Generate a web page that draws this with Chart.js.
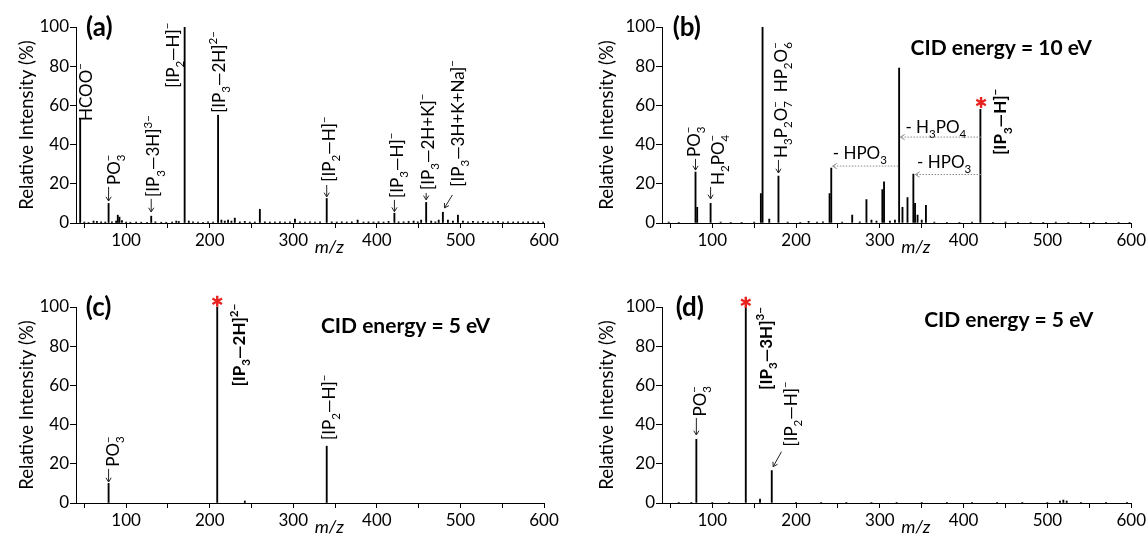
<!DOCTYPE html>
<html>
<head>
<meta charset="utf-8">
<script src="https://cdn.jsdelivr.net/npm/chart.js@4.4.1/dist/chart.umd.min.js"></script>
<style>
html, body { margin: 0; padding: 0; background: #fff; overflow: hidden; }
#fig { position: relative; width: 1148px; height: 538px; overflow: hidden; background: #fff; }
canvas { position: absolute; }
</style>
</head>
<body>
<div id="fig">
  <canvas id="pa" width="574" height="270" style="left:0;top:0"></canvas>
  <canvas id="pb" width="574" height="270" style="left:574px;top:0"></canvas>
  <canvas id="pc" width="574" height="270" style="left:0;top:280px"></canvas>
  <canvas id="pd" width="574" height="270" style="left:574px;top:280px"></canvas>
</div>
<script>
// m/z axis ticks (labels only on the hundreds)
const xTicks = [50, 100, 150, 200, 250, 300, 350, 400, 450, 500, 550, 600];
const yTicks = [0, 20, 40, 60, 80, 100];

// (a) full scan
const aMz  = [45, 50, 55, 61, 65, 70, 75, 79, 83, 88, 90, 92, 95, 100, 105, 112, 118, 125, 130, 135, 142, 148, 155, 160, 163, 170, 175, 180, 186, 192, 198, 204, 210, 214, 218, 222, 226, 230, 236, 242, 248, 254, 260, 266, 272, 278, 284, 290, 296, 302, 308, 314, 320, 326, 332, 340, 346, 352, 358, 364, 370, 377, 384, 390, 396, 402, 408, 414, 421, 426, 432, 438, 444, 449, 453, 459, 465, 470, 474, 479, 485, 491, 497, 503, 509, 515, 521, 527, 533, 539, 545, 551, 557, 563, 569, 575, 581, 587, 593, 599];
const aInt = [53, 0.5, 0.3, 1, 0.8, 0.6, 0.5, 10, 0.6, 1, 4, 3, 1.2, 0.5, 0.4, 0.5, 0.4, 0.4, 3.5, 0.6, 0.4, 0.4, 0.5, 1, 0.8, 100, 1, 0.6, 0.5, 0.4, 0.6, 0.5, 55, 1.5, 1, 1.5, 1, 2.5, 0.6, 0.8, 0.5, 0.5, 7, 0.6, 0.5, 0.5, 0.6, 0.5, 0.6, 2, 0.6, 0.5, 0.6, 0.5, 0.6, 12.5, 0.6, 0.5, 0.6, 0.5, 0.6, 1.5, 0.5, 0.6, 0.5, 0.6, 0.5, 0.8, 5, 0.6, 0.6, 0.8, 1, 0.6, 1.5, 10.5, 1, 0.6, 1.5, 5.5, 1.5, 1, 4, 1, 0.6, 0.8, 0.6, 0.8, 0.5, 0.6, 0.8, 0.5, 0.6, 0.5, 0.6, 0.5, 0.6, 0.5, 0.6, 0.5];

// (b) CID 10 eV of [IP3-H]-
const bMz  = [48, 60, 80, 82, 98, 110, 122, 135, 150, 158, 160, 168, 179, 190, 205, 215, 225, 232, 240, 242, 255, 267, 276, 284, 290, 296, 303, 305, 312, 318, 323, 327, 333, 340, 342, 345, 350, 355, 365, 380, 395, 410, 420, 435, 450, 465, 480, 495, 510, 525, 540, 555, 570, 585, 598];
const bInt = [0.5, 0.4, 26, 8, 10, 0.5, 0.4, 0.4, 0.5, 15, 100, 2, 24, 0.5, 0.4, 0.8, 0.5, 0.6, 15, 28, 0.5, 4, 0.6, 12, 1.5, 1, 17, 21, 1, 1.5, 79, 8, 13, 25, 10, 4, 1.5, 9, 0.5, 0.4, 0.4, 0.5, 58, 0.4, 0.5, 0.4, 0.3, 0.4, 0.5, 0.3, 0.4, 0.3, 0.3, 0.3, 0.3];

// (c) CID 5 eV of [IP3-2H]2-
const cMz  = [79, 209, 242, 340];
const cInt = [10, 100, 1, 29];

// (d) CID 5 eV of [IP3-3H]3-
const dMz  = [60, 75, 81, 100, 120, 140, 157, 171, 200, 230, 260, 290, 320, 350, 380, 410, 440, 470, 500, 515, 519, 523, 540, 570, 595];
const dInt = [0.3, 0.4, 32.5, 0.3, 0.3, 100, 2, 16.5, 0.4, 0.3, 0.4, 0.3, 0.4, 0.3, 0.3, 0.4, 0.3, 0.4, 0.4, 1, 1.5, 1, 0.4, 0.3, 0.3];

// annotations, in data units: [m/z, intensity, text, bold]
const notes = {
  pa: {
    tag: [52, '(a)'],
    vlabels: [
      [52, 52, 'HCOO^{−}'],
      [85, 19.4, 'PO_{3}^{−}'],
      [132.5, 13.3, '[IP_{3}—3H]^{3−}'],
      [156, 69, '[IP_{2}—H]^{−}'],
      [211, 56.2, '[IP_{3}—2H]^{2−}'],
      [342.8, 21.1, '[IP_{2}—H]^{−}'],
      [423.4, 12.8, '[IP_{3}—H]^{−}'],
      [460.5, 16.9, '[IP_{3}—2H+K]^{−}'],
      [496.4, 18.5, '[IP_{3}—3H+K+Na]^{−}']
    ],
    arrows: [[79, 18.4, 79, 11.2], [130, 12.3, 130, 5.6], [340, 19.4, 340, 13.3], [421, 11.8, 421, 5.8], [459, 15.3, 459, 11.8], [490.4, 14.3, 480.9, 7.7]],
    hlabels: [], dotted: [], stars: [], cid: null
  },
  pb: {
    tag: [52.7, '(b)'],
    vlabels: [
      [78, 33.7, 'PO_{3}^{−}'],
      [106.3, 19.4, 'H_{2}PO_{4}^{−}'],
      [181.4, 33.2, 'H_{3}P_{2}O_{7}^{−}  HP_{2}O_{6}^{−}'],
      [443.8, 34.7, '[IP_{3}—H]^{−}', true]
    ],
    hlabels: [[243.8, 35.6, '- HPO_{3}'], [330.5, 49.2, '- H_{3}PO_{4}'], [344.4, 31.3, '- HPO_{3}']],
    arrows: [[80, 32.7, 80, 27], [98, 18.4, 98, 12.3], [179, 32.2, 179, 25.5]],
    dotted: [[322, 29.3, 243.5, 29.3], [420.8, 44.1, 324.5, 44.1], [420.8, 25, 342.4, 25]],
    stars: [[420.8, 61.5]],
    cid: [444.9, 89.3, 'CID energy = 10 eV']
  },
  pc: {
    tag: [51.8, '(c)'],
    vlabels: [
      [84.4, 18.5, 'PO_{3}^{−}'],
      [235.2, 59.4, '[IP_{3}—2H]^{2−}', true],
      [342.8, 32.2, '[IP_{2}—H]^{−}']
    ],
    hlabels: [], dotted: [],
    arrows: [[79, 17.4, 79, 10.7]],
    stars: [[209, 102.9]],
    cid: [434.3, 90.1, 'CID energy = 5 eV']
  },
  pd: {
    tag: [56.3, '(d)'],
    vlabels: [
      [84.9, 44.1, 'PO_{3}^{−}'],
      [163.6, 57.7, '[IP_{3}—3H]^{3−}', true],
      [193.4, 28.8, '[IP_{2}—H]^{−}']
    ],
    hlabels: [], dotted: [],
    arrows: [[81, 43.4, 81, 34.7], [182.6, 26.2, 172.7, 18.5]],
    stars: [[140, 102.4]],
    cid: [453.8, 93.5, 'CID energy = 5 eV']
  }
};

const FONT = 'Lato';
const LBL = 17;

function segments(s) {
  const out = [];
  const re = /([_^])\{([^}]*)\}/g;
  let last = 0, mt;
  while ((mt = re.exec(s))) {
    if (mt.index > last) out.push({ t: s.slice(last, mt.index), k: 'n' });
    out.push({ t: mt[2], k: mt[1] === '_' ? 'sub' : 'sup' });
    last = re.lastIndex;
  }
  if (last < s.length) out.push({ t: s.slice(last), k: 'n' });
  return out;
}

// draws text with sub/superscripts from the baseline origin, returns the width
function drawRich(ctx, s, size, bold) {
  let x = 0, subStart = null, subW = 0;
  for (const seg of segments(s)) {
    const fs = seg.k === 'n' ? size : size * 0.68;
    ctx.font = (bold ? 'bold ' : '') + fs + 'px ' + FONT;
    const w = ctx.measureText(seg.t).width;
    let sx = x;
    if (seg.k === 'sup' && subStart !== null) {
      sx = subStart;
      x = subStart + Math.max(w, subW);
    } else {
      x += w;
    }
    const dy = seg.k === 'sub' ? size * 0.3 : seg.k === 'sup' ? -size * 0.45 : 0;
    ctx.fillText(seg.t, sx, dy);
    if (seg.k === 'sub') { subStart = sx; subW = w; } else { subStart = null; }
  }
  return x;
}

function drawArrow(ctx, x1, y1, x2, y2) {
  ctx.beginPath();
  ctx.moveTo(x1, y1);
  ctx.lineTo(x2, y2);
  ctx.stroke();
  ctx.setLineDash([]);
  const a = Math.atan2(y2 - y1, x2 - x1), h = 5;
  ctx.beginPath();
  ctx.moveTo(x2 - h * Math.cos(a - 0.55), y2 - h * Math.sin(a - 0.55));
  ctx.lineTo(x2, y2);
  ctx.lineTo(x2 - h * Math.cos(a + 0.55), y2 - h * Math.sin(a + 0.55));
  ctx.stroke();
}

const notesPlugin = {
  id: 'notes',
  afterDraw(chart) {
    const n = notes[chart.canvas.id];
    const ctx = chart.ctx, xs = chart.scales.x, ys = chart.scales.y;
    const X = m => xs.getPixelForValue(m), Y = v => ys.getPixelForValue(v);
    ctx.save();
    ctx.fillStyle = '#000';

    // panel letter
    ctx.textAlign = 'left';
    ctx.textBaseline = 'middle';
    ctx.font = 'bold 26px ' + FONT;
    ctx.fillText(n.tag[1], X(n.tag[0]), Y(100) + 1);

    // m/z title
    ctx.font = 'italic 18px ' + FONT;
    ctx.textAlign = 'center';
    ctx.fillText('m/z', X(343), chart.chartArea.bottom + 24);

    if (n.cid) {
      ctx.font = 'bold 21px ' + FONT;
      ctx.fillText(n.cid[2], X(n.cid[0]), Y(n.cid[1]));
    }
    ctx.textAlign = 'left';
    ctx.textBaseline = 'alphabetic';

    for (const [m, v, t, bold] of n.vlabels) {
      ctx.save();
      ctx.translate(X(m) + LBL * 0.36, Y(v));
      ctx.rotate(-Math.PI / 2);
      drawRich(ctx, t, LBL, !!bold);
      ctx.restore();
    }
    for (const [m, v, t] of n.hlabels) {
      ctx.save();
      ctx.translate(X(m), Y(v) + LBL * 0.36);
      drawRich(ctx, t, LBL, false);
      ctx.restore();
    }

    ctx.lineWidth = 1;
    ctx.strokeStyle = '#222';
    for (const [m1, v1, m2, v2] of n.arrows) drawArrow(ctx, X(m1), Y(v1), X(m2), Y(v2));

    ctx.strokeStyle = '#8a8a8a';
    for (const [m1, v1, m2, v2] of n.dotted) {
      ctx.setLineDash([1.5, 1.5]);
      drawArrow(ctx, X(m1), Y(v1) + 0.5, X(m2), Y(v2) + 0.5);
    }
    ctx.setLineDash([]);

    // red asterisk over the precursor ion
    ctx.strokeStyle = '#e8231f';
    ctx.lineWidth = 2.4;
    for (const [m, v] of n.stars) {
      const cx = X(m), cy = Y(v), r = 5.5;
      ctx.beginPath();
      for (let k = 0; k < 3; k++) {
        const a = Math.PI / 2 + k * Math.PI / 3;
        ctx.moveTo(cx - r * Math.cos(a), cy - r * Math.sin(a));
        ctx.lineTo(cx + r * Math.cos(a), cy + r * Math.sin(a));
      }
      ctx.stroke();
    }
    ctx.restore();
  }
};

Chart.defaults.font.family = FONT;
Chart.defaults.color = '#000';

function makePanel(id, mz, inten, yw, padRight, titlePad) {
  return new Chart(document.getElementById(id), {
    type: 'bar',
    data: {
      datasets: [{
        data: mz.map((m, i) => ({ x: m, y: inten[i] })),
        backgroundColor: '#000',
        barThickness: 1.2
      }]
    },
    options: {
      responsive: false,
      animation: false,
      layout: { padding: { top: 27, right: padRight, left: 0, bottom: 0 } },
      plugins: { legend: { display: false }, tooltip: { enabled: false } },
      scales: {
        x: {
          type: 'linear', min: 40, max: 600, offset: false,
          grid: { drawOnChartArea: false, tickLength: 5, color: '#000', offset: false },
          border: { color: '#000', width: 1 },
          afterBuildTicks: s => { s.ticks = xTicks.map(v => ({ value: v })); },
          afterFit: s => { s.height = 47; },
          ticks: { autoSkip: false, maxRotation: 0, padding: 2, font: { size: 17 }, color: '#000',
                   callback: v => (v % 100 === 0 ? v : '') }
        },
        y: {
          min: 0, max: 100,
          afterBuildTicks: s => { s.ticks = yTicks.map(v => ({ value: v })); },
          afterFit: s => { s.width = yw; },
          grid: { drawOnChartArea: false, tickLength: 6, color: '#000' },
          border: { color: '#000', width: 1 },
          ticks: { padding: 1, font: { size: 17 }, color: '#000' },
          title: { display: true, text: 'Relative Intensity (%)', font: { size: 18.5 }, color: '#000',
                   padding: { top: titlePad, bottom: 0 } }
        }
      }
    },
    plugins: [notesPlugin]
  });
}

makePanel('pa', aMz, aInt, 76, 30, 16);
makePanel('pb', bMz, bInt, 88, 16, 22);
makePanel('pc', cMz, cInt, 76, 30, 16);
makePanel('pd', dMz, dInt, 88, 16, 22);
</script>
</body>
</html>
